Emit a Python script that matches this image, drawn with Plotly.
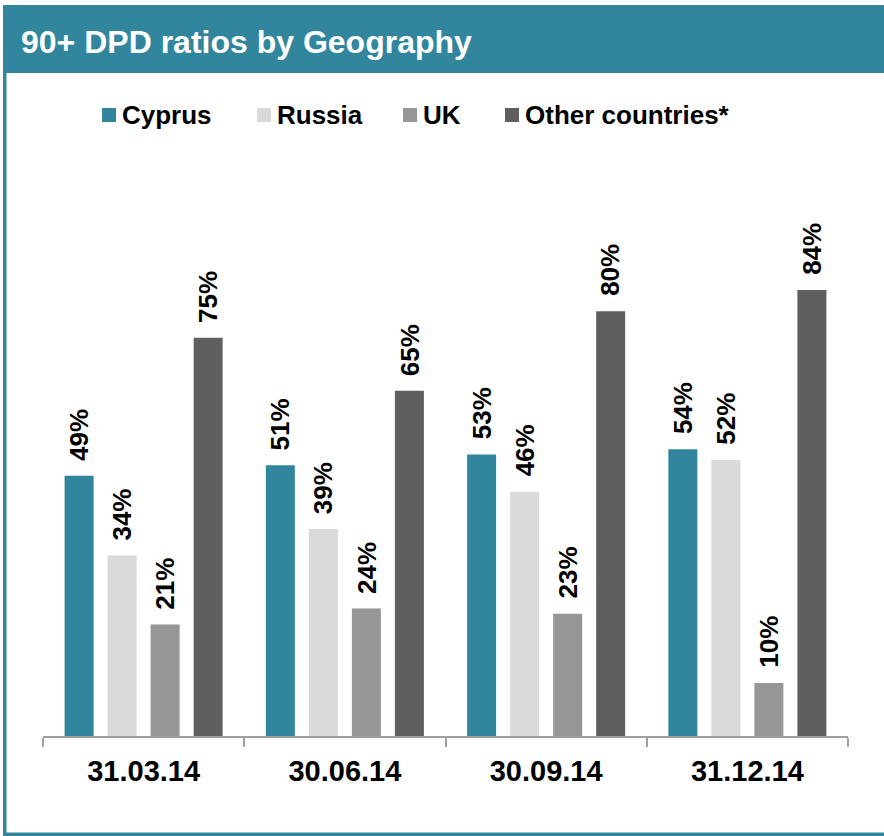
import plotly.graph_objects as go

# Reporting dates and 90+ DPD ratios (%) per geography
dates = ["31.03.14", "30.06.14", "30.09.14", "31.12.14"]
series_names = ["Cyprus", "Russia", "UK", "Other countries*"]
cyprus = [49, 51, 53, 54]
russia = [34, 39, 46, 52]
uk = [21, 24, 23, 10]
other = [75, 65, 80, 84]
colors = ["#31859C", "#D9D9D9", "#969696", "#5F5F5F"]

values = [cyprus, russia, uk, other]

W, H = 884, 836
ML, MR, MT, MB = 43, 36, 205, 100
PW = W - ML - MR
PH = H - MT - MB
FONT = "Arial, Liberation Sans, sans-serif"


def px_x(px):
    return (px - ML) / PW


def px_y(py):
    return (H - MB - py) / PH


fig = go.Figure()
for name, vals, col in zip(series_names, values, colors):
    fig.add_trace(go.Bar(
        x=dates, y=vals, name=name, marker=dict(color=col, line=dict(width=0)),
        showlegend=False, hoverinfo="skip",
    ))

# Rotated value labels above each bar
group_w = PW / len(dates)
slot = group_w * (1 - 0.145) / len(series_names)
annotations = []
for i, vals in enumerate(values):
    offset = (i - (len(series_names) - 1) / 2) * slot
    for d, v in zip(dates, vals):
        annotations.append(dict(
            x=d, y=v, xref="x", yref="y", text=f"<b>{v}%</b>",
            textangle=-90, showarrow=False, xanchor="center", yanchor="bottom",
            xshift=offset, yshift=13, font=dict(family=FONT, size=26, color="#000000"),
        ))

# Title banner and panel frame
shapes = [
    dict(type="rect", xref="paper", yref="paper", x0=px_x(3), x1=px_x(890),
         y0=px_y(73), y1=px_y(5), fillcolor="#31859C", line=dict(width=0), layer="below"),
    dict(type="rect", xref="paper", yref="paper", x0=px_x(3), x1=px_x(6.5),
         y0=px_y(836), y1=px_y(73), fillcolor="#31859C", line=dict(width=0)),
    dict(type="rect", xref="paper", yref="paper", x0=px_x(3), x1=px_x(890),
         y0=px_y(836), y1=px_y(832.5), fillcolor="#31859C", line=dict(width=0)),
]
annotations.append(dict(
    x=px_x(19), y=px_y(42), xref="paper", yref="paper", text="<b>90+ DPD ratios by Geography</b>",
    showarrow=False, xanchor="left", yanchor="middle",
    font=dict(family=FONT, size=32, color="#FFFFFF"),
))

# Legend: swatch + label
legend_marker_x = [102, 257, 403, 505]
for name, col, mx in zip(series_names, colors, legend_marker_x):
    shapes.append(dict(type="rect", xref="paper", yref="paper",
                       x0=px_x(mx), x1=px_x(mx + 14), y0=px_y(122), y1=px_y(108),
                       fillcolor=col, line=dict(width=0)))
    annotations.append(dict(
        x=px_x(mx + 18), y=px_y(115), xref="paper", yref="paper", text=f"<b>{name}</b>",
        showarrow=False, xanchor="left", yanchor="middle",
        font=dict(family=FONT, size=26, color="#000000"),
    ))

fig.update_layout(
    width=W, height=H, margin=dict(l=ML, r=MR, t=MT, b=MB),
    paper_bgcolor="#FFFFFF", plot_bgcolor="#FFFFFF",
    barmode="group", bargap=0.145, bargroupgap=0.326,
    showlegend=False,
    shapes=shapes, annotations=annotations,
    xaxis=dict(
        showline=True, linecolor="#A0A0A0", linewidth=2,
        ticks="outside", tickson="boundaries", ticklen=9, tickcolor="#A0A0A0", tickwidth=2,
        tickfont=dict(family=FONT, size=29, color="#000000"),
        ticklabelstandoff=8, showgrid=False, zeroline=False,
        tickprefix="<b>", ticksuffix="</b>",
    ),
    yaxis=dict(range=[0, 100], visible=False, showgrid=False, zeroline=False),
)

fig.write_html("out.html")
